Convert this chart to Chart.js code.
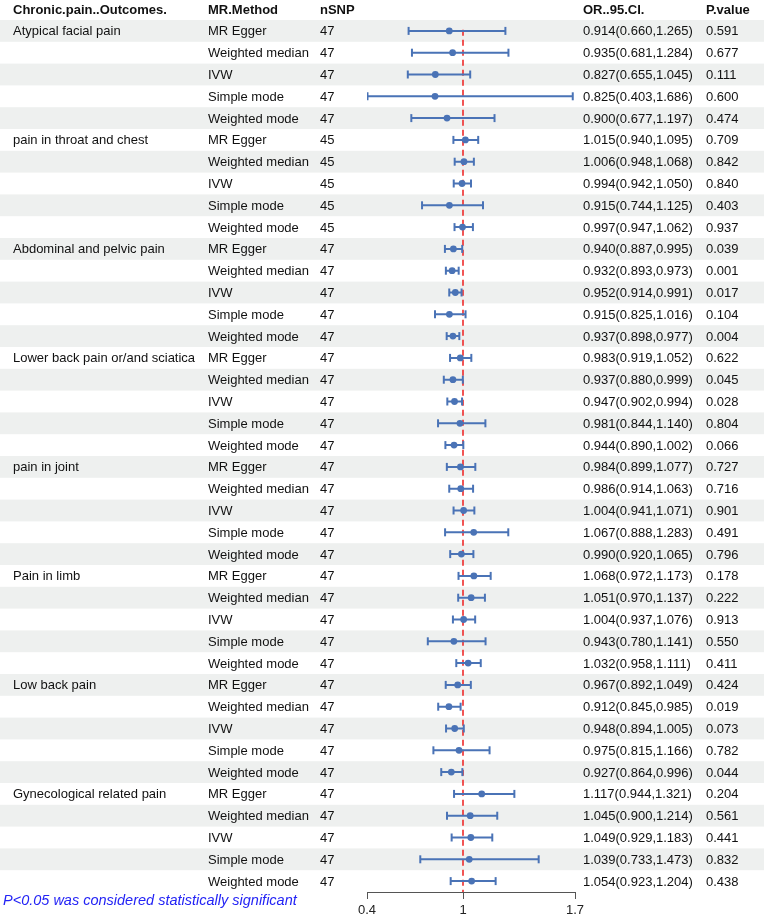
<!DOCTYPE html>
<html lang="en">
<head>
  <meta charset="UTF-8">
  <title>Chronic pain MR forest plot</title>
  <script src="https://cdn.jsdelivr.net/npm/chart.js"></script>
  <style>
    html, body { margin: 0; padding: 0; background: #fff; }
    #wrap { position: relative; width: 767px; height: 917px; }
  </style>
</head>
<body>
  <div id="wrap"><canvas id="forest"></canvas></div>
  <script>
    // outcomes (5 MR methods each)
    const outcomes = ['Atypical facial pain', 'pain in throat and chest', 'Abdominal and pelvic pain',
      'Lower back pain or/and sciatica', 'pain in joint', 'Pain in limb', 'Low back pain', 'Gynecological related pain'];
    const methods = ['MR Egger', 'Weighted median', 'IVW', 'Simple mode', 'Weighted mode'];
    const nSNP = [47, 45, 47, 47, 47, 47, 47, 47];

    const orEst = [
      0.914, 0.935, 0.827, 0.825, 0.900,
      1.015, 1.006, 0.994, 0.915, 0.997,
      0.940, 0.932, 0.952, 0.915, 0.937,
      0.983, 0.937, 0.947, 0.981, 0.944,
      0.984, 0.986, 1.004, 1.067, 0.990,
      1.068, 1.051, 1.004, 0.943, 1.032,
      0.967, 0.912, 0.948, 0.975, 0.927,
      1.117, 1.045, 1.049, 1.039, 1.054
    ];
    const orLow = [
      0.660, 0.681, 0.655, 0.403, 0.677,
      0.940, 0.948, 0.942, 0.744, 0.947,
      0.887, 0.893, 0.914, 0.825, 0.898,
      0.919, 0.880, 0.902, 0.844, 0.890,
      0.899, 0.914, 0.941, 0.888, 0.920,
      0.972, 0.970, 0.937, 0.780, 0.958,
      0.892, 0.845, 0.894, 0.815, 0.864,
      0.944, 0.900, 0.929, 0.733, 0.923
    ];
    const orHigh = [
      1.265, 1.284, 1.045, 1.686, 1.197,
      1.095, 1.068, 1.050, 1.125, 1.062,
      0.995, 0.973, 0.991, 1.016, 0.977,
      1.052, 0.999, 0.994, 1.140, 1.002,
      1.077, 1.063, 1.071, 1.283, 1.065,
      1.173, 1.137, 1.076, 1.141, 1.111,
      1.049, 0.985, 1.005, 1.166, 0.996,
      1.321, 1.214, 1.183, 1.473, 1.204
    ];
    const pValue = [
      0.591, 0.677, 0.111, 0.600, 0.474,
      0.709, 0.842, 0.840, 0.403, 0.937,
      0.039, 0.001, 0.017, 0.104, 0.004,
      0.622, 0.045, 0.028, 0.804, 0.066,
      0.727, 0.716, 0.901, 0.491, 0.796,
      0.178, 0.222, 0.913, 0.550, 0.411,
      0.424, 0.019, 0.073, 0.782, 0.044,
      0.204, 0.561, 0.441, 0.832, 0.438
    ];
    const xTicks = [0.4, 1, 1.7];
    const refValue = 1;

    const headers = ['Chronic.pain..Outcomes.', 'MR.Method', 'nSNP', 'OR..95.CI.', 'P.value'];
    const footnote = 'P<0.05 was considered statistically significant';

    const nRows = orEst.length;
    const blue = '#4a73b6';
    const FONT = '"Liberation Sans", Arial, sans-serif';

    // error bar segments, separated by gaps
    const ciData = [];
    orEst.forEach((v, i) => {
      ciData.push({x: orLow[i], y: i}, {x: orHigh[i], y: i}, {x: null, y: null});
    });
    const capData = [];
    orEst.forEach((v, i) => {
      capData.push({x: orLow[i], y: i}, {x: orHigh[i], y: i});
    });
    const pointData = orEst.map((v, i) => ({x: v, y: i}));

    // table text + row shading
    const tablePlugin = {
      id: 'table',
      beforeDatasetsDraw(chart) {
        const ctx = chart.ctx;
        const ys = chart.scales.y;
        const rowH = Math.abs(ys.getPixelForValue(1) - ys.getPixelForValue(0));
        ctx.save();
        ctx.fillStyle = '#eef0ef';
        for (let i = 0; i < nRows; i += 2) {
          const y = ys.getPixelForValue(i);
          ctx.fillRect(0, y - rowH / 2, 764, rowH);
        }
        ctx.restore();
      },
      afterDraw(chart) {
        const ctx = chart.ctx;
        const ys = chart.scales.y;
        const cols = [13, 208, 320, 583, 706];
        ctx.save();
        ctx.textBaseline = 'middle';
        ctx.fillStyle = '#111';
        ctx.font = 'bold 13px ' + FONT;
        const hy = ys.getPixelForValue(-1) + 1;
        headers.forEach((h, k) => ctx.fillText(h, cols[k], hy));
        ctx.font = '13px ' + FONT;
        for (let i = 0; i < nRows; i++) {
          const y = ys.getPixelForValue(i) + 1;
          const g = Math.floor(i / 5);
          if (i % 5 === 0) ctx.fillText(outcomes[g], cols[0], y);
          ctx.fillText(methods[i % 5], cols[1], y);
          ctx.fillText(String(nSNP[g]), cols[2], y);
          ctx.fillText(orEst[i].toFixed(3) + '(' + orLow[i].toFixed(3) + ',' + orHigh[i].toFixed(3) + ')', cols[3], y);
          ctx.fillText(pValue[i].toFixed(3), cols[4], y);
        }
        ctx.font = 'italic 14.5px ' + FONT;
        ctx.fillStyle = '#2323f5';
        ctx.fillText(footnote, 3, 901);
        ctx.restore();
      }
    };

    new Chart(document.getElementById('forest'), {
      type: 'scatter',
      data: {
        datasets: [
          {
            // reference line at OR = 1
            data: [{x: refValue, y: -0.05}, {x: refValue, y: nRows - 0.5}],
            showLine: true,
            borderColor: '#ee2b2b',
            borderWidth: 1.6,
            borderDash: [6, 4],
            pointRadius: 0,
            order: 3
          },
          {
            data: ciData,
            showLine: true,
            spanGaps: false,
            borderColor: blue,
            borderWidth: 2,
            pointRadius: 0,
            order: 2
          },
          {
            data: capData,
            pointStyle: 'line',
            rotation: 90,
            radius: 4,
            borderColor: blue,
            borderWidth: 2,
            order: 1
          },
          {
            data: pointData,
            pointStyle: 'circle',
            radius: 3.4,
            backgroundColor: blue,
            borderColor: blue,
            borderWidth: 0,
            order: 0
          }
        ]
      },
      options: {
        responsive: true,
        maintainAspectRatio: false,
        animation: false,
        layout: { padding: { left: 367, right: 192, top: 20, bottom: 0 } },
        plugins: { legend: { display: false }, tooltip: { enabled: false } },
        scales: {
          x: {
            type: 'linear',
            min: xTicks[0],
            max: xTicks[xTicks.length - 1],
            afterBuildTicks(scale) { scale.ticks = xTicks.map(v => ({value: v})); },
            afterFit(scale) { scale.height = 25; scale.paddingLeft = 0; scale.paddingRight = 0; },
            grid: { drawOnChartArea: false, drawTicks: true, tickLength: 7, color: '#555', lineWidth: 1 },
            border: { display: true, color: '#555', width: 1 },
            ticks: {
              color: '#222',
              padding: 4,
              maxRotation: 0,
              autoSkip: false,
              font: { family: FONT, size: 13 },
              callback: v => String(v)
            }
          },
          y: {
            type: 'linear',
            display: false,
            reverse: true,
            min: -0.5,
            max: nRows - 0.5
          }
        }
      },
      plugins: [tablePlugin]
    });
  </script>
</body>
</html>
